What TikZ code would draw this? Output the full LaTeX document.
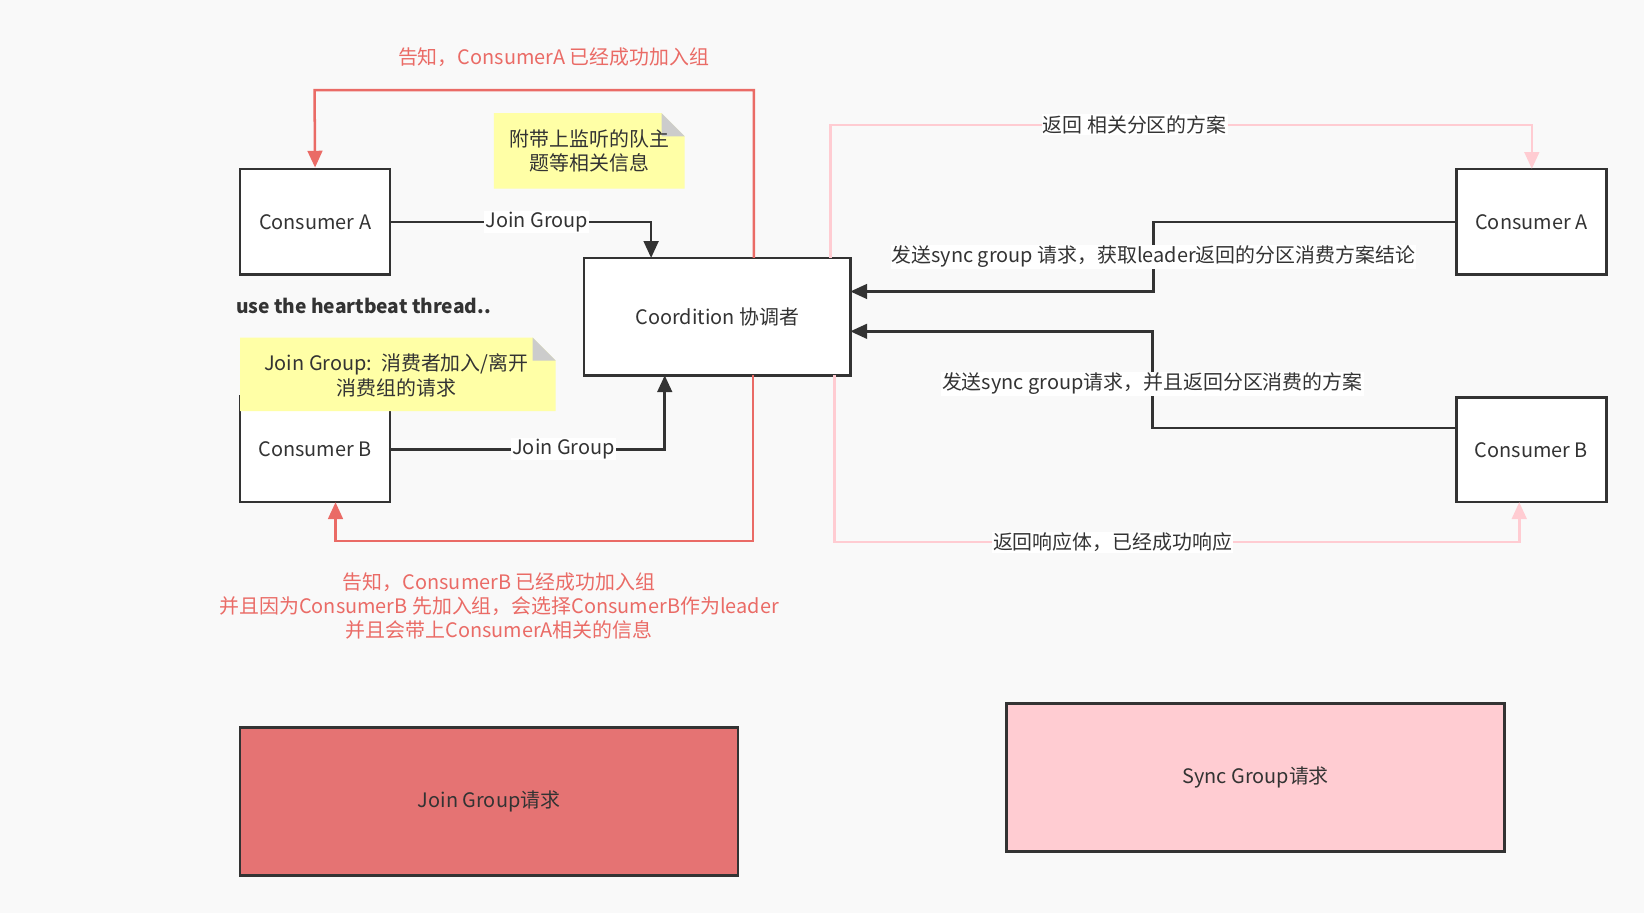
\documentclass[tikz,border=0pt]{standalone}
\usepackage{fontspec}
\setmainfont{Noto Sans CJK SC}
\usetikzlibrary{arrows.meta}
\definecolor{bg}{HTML}{F9F9F9}
\definecolor{ink}{HTML}{333333}
\definecolor{redc}{HTML}{EA6B66}
\definecolor{redfill}{HTML}{E57373}
\definecolor{pinkc}{HTML}{FFCCD2}
\definecolor{notey}{HTML}{FFFFA6}
\definecolor{fold}{HTML}{CCCCCC}
\tikzset{
  box/.style={draw=ink, line width=2.4pt, fill=white, inner sep=0pt, text=ink, font=\fontsize{19}{23}\selectfont},
  blk/.style={draw=ink, line width=2.4pt, -{Triangle[length=16pt,width=14pt]}},
  redl/.style={draw=redc, line width=2.4pt, -{Triangle[length=16pt,width=14pt]}},
  pinkl/.style={draw=pinkc, line width=2.4pt, -{Triangle[length=16pt,width=14pt]}},
  lbl/.style={fill=white, inner sep=1pt, text=ink, font=\fontsize{19}{23}\selectfont},
  redtxt/.style={text=redc, font=\fontsize{19}{23}\selectfont, align=center},
}
\begin{document}
\begin{tikzpicture}[x=1pt,y=-1pt]
\useasboundingbox[fill=bg] (0,0) rectangle (1568,871);
% boxes
\node[box, minimum width=143pt, minimum height=101pt] (ca) at (300.5,211.5) {Consumer A};
\node[box, minimum width=143pt, minimum height=101pt] (cb) at (300.5,428.5) {Consumer B};
\node[box, minimum width=254pt, minimum height=112pt] (co) at (684,302) {Coordition 协调者};
\node[box, minimum width=143pt, minimum height=101pt] (ra) at (1460.5,211.5) {Consumer A};
\node[box, minimum width=143pt, minimum height=100pt] (rb) at (1460.5,429) {Consumer B};
\node[box, fill=redfill, minimum width=475pt, minimum height=141pt] (jg) at (466.5,764.5) {Join Group请求};
\node[box, fill=pinkc, minimum width=475pt, minimum height=141pt] (sg) at (1197.5,741.5) {Sync Group请求};
% notes
\fill[notey] (471,108) -- (631,108) -- (653,130) -- (653,180) -- (471,180) -- cycle;
\fill[fold] (631,108) -- (653,130) -- (631,130) -- cycle;
\node[text=ink, align=center, font=\fontsize{19}{23}\selectfont] (n1) at (562,144) {附带上监听的队主\\题等相关信息};
\fill[notey] (229,322) -- (508,322) -- (530,344) -- (530,392) -- (229,392) -- cycle;
\fill[fold] (508,322) -- (530,344) -- (508,344) -- cycle;
\node[text=ink, align=center, font=\fontsize{19}{23}\selectfont] (n2) at (378,358) {Join Group:\ \ 消费者加入/离开\\消费组的请求};
\node[text=ink, font=\bfseries\fontsize{18.3}{23}\selectfont, anchor=west, inner sep=0pt] (hb) at (225,292) {use the heartbeat thread..};
% join group arrows
\draw[blk] (ca.east) -- (621,211.5) node[lbl, pos=0.56] {Join Group} -- (621,246);
\draw[blk] (cb.east) -- (634,428.5) node[lbl, pos=0.63] {Join Group} -- (634,358);
% red returns
\draw[redl] (719,246) -- (719,86) -- (300,86) -- (ca.north);
\node[redtxt] (t1) at (528,55) {告知，ConsumerA 已经成功加入组};
\draw[redl] (718,358) -- (718,516) -- (320,516) -- (320,479);
\node[redtxt] (t2) at (476,578) {告知，ConsumerB 已经成功加入组\\并且因为ConsumerB 先加入组，会选择ConsumerB作为leader\\并且会带上ConsumerA相关的信息};
% pink
\draw[pinkl] (792,246) -- (792,119) -- (1461,119) node[lbl, pos=0.434] {返回 相关分区的方案} -- (1461,161);
\draw[pinkl] (796,358) -- (796,517) -- (1449,517) node[lbl, pos=0.406] {返回响应体，已经成功响应} -- (1449,479);
% sync arrows
\draw[blk] (ra.west) -- (1100,211.5) -- (1100,278) -- (811,278);
\node[lbl] (s1) at (1100,245) {发送sync group 请求，获取leader返回的分区消费方案结论};
\draw[blk] (rb.west |- 0,408) -- (1099,408) -- (1099,316) -- (811,316);
\node[lbl] (s2) at (1099,366) {发送sync group请求，并且返回分区消费的方案};
\end{tikzpicture}
\end{document}
